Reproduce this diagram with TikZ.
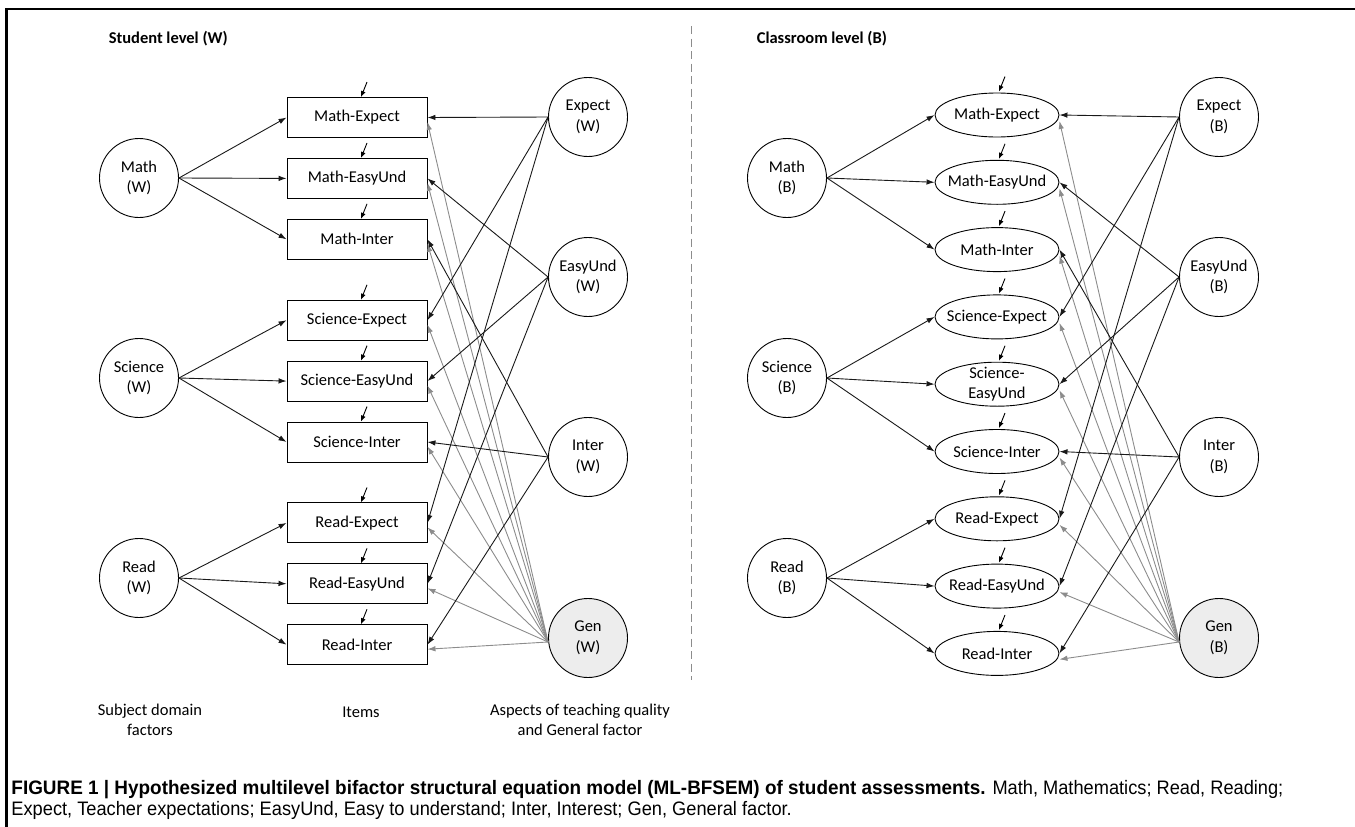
\documentclass[tikz,border=0pt]{standalone}
\usepackage{fontspec}
\setmainfont{Carlito}
\newfontfamily\capfont[FakeStretch=0.935,BoldFeatures={FakeStretch=0.97}]{Liberation Sans}
\usetikzlibrary{positioning,shapes.geometric,arrows.meta}

\tikzset{
  >={Latex[length=8pt,width=5.5pt]},
  factor/.style={circle,draw,minimum size=79pt,inner sep=0pt,align=center},
  itemw/.style={rectangle,draw,minimum width=140pt,minimum height=40pt},
  itemb/.style={ellipse,draw,minimum width=124pt,minimum height=44pt,inner xsep=-10pt,inner ysep=-3pt,align=center},
  load/.style={->,black!90},
  genload/.style={->,black!45},
  resid/.style={->,>={Latex[length=6pt,width=5pt]}}
}

\begin{document}
\begin{tikzpicture}[x=1pt,y=-1pt,line width=0.9pt,node distance=20pt,font=\fontsize{16.5}{20.5}\selectfont]
\useasboundingbox (0,0) rectangle (1355,827);
\draw[line width=2.7pt] (6.5,827) -- (6.5,9) -- (1355,9);
\draw[black!45,dash pattern=on 8pt off 4.5pt] (691,26) -- (691,680);

% student level
\node[anchor=west,font=\fontsize{16.5}{20}\selectfont\bfseries] (lvl_w) at (105,39) {Student level (W)};

\node[factor] (math_w) at (139,178) {Math\\(W)};
\node[factor] (sci_w) at (139,378) {Science\\(W)};
\node[factor] (read_w) at (139,578) {Read\\(W)};

\node[itemw] (w_1) at (357,117.5) {Math-Expect};
\node[itemw] (w_2) [below=of w_1] {Math-EasyUnd};
\node[itemw] (w_3) [below=of w_2] {Math-Inter};
\node[itemw] (w_4) [below=40pt of w_3] {Science-Expect};
\node[itemw] (w_5) [below=of w_4] {Science-EasyUnd};
\node[itemw] (w_6) [below=of w_5] {Science-Inter};
\node[itemw] (w_7) [below=40pt of w_6] {Read-Expect};
\node[itemw] (w_8) [below=of w_7] {Read-EasyUnd};
\node[itemw] (w_9) [below=of w_8] {Read-Inter};

\node[factor] (exp_w) at (588,117) {Expect\\(W)};
\node[factor] (easy_w) at (588,277) {EasyUnd\\(W)};
\node[factor] (int_w) at (588,457) {Inter\\(W)};
\node[factor,fill=black!7] (gen_w) at (588,638) {Gen\\(W)};

\foreach \i in {1,...,9}
  \path[genload] ([yshift=-4pt]gen_w.west) edge ([yshift=-4.5pt]w_\i.east);

\path[load]
  (math_w.east) edge (w_1.west) edge (w_2.west) edge (w_3.west)
  (sci_w.east) edge (w_4.west) edge (w_5.west) edge (w_6.west)
  (read_w.east) edge (w_7.west) edge (w_8.west) edge (w_9.west)
  (exp_w.west) edge (w_1.east) edge (w_4.east) edge (w_7.east)
  (easy_w.west) edge (w_2.east) edge (w_5.east) edge (w_8.east)
  (int_w.west) edge (w_3.east) edge (w_6.east) edge (w_9.east);

\foreach \i in {1,...,9}
  \draw[resid] ([xshift=10pt,yshift=15pt]w_\i.north) -- ([xshift=4pt]w_\i.north);

\node[align=center] (lab_dom) at (150,720) {Subject domain\\factors};
\node (lab_item) at (361,712) {Items};
\node[align=center] (lab_asp) at (580,720) {Aspects of teaching quality\\and General factor};

% classroom level
\node[anchor=west,font=\fontsize{16.5}{20}\selectfont\bfseries] (lvl_b) at (753,39) {Classroom level (B)};

\node[factor] (math_b) at (787,178) {Math\\(B)};
\node[factor] (sci_b) at (787,378) {Science\\(B)};
\node[factor] (read_b) at (787,578) {Read\\(B)};

\node[itemb] (b_1) at (997,115) {Math-Expect};
\node[itemb] (b_2) [below=22.4pt of b_1] {Math-EasyUnd};
\node[itemb] (b_3) [below=22.4pt of b_2] {Math-Inter};
\node[itemb] (b_4) [below=22.4pt of b_3] {Science-Expect};
\node[itemb] (b_5) [below=22.4pt of b_4] {Science-\\EasyUnd};
\node[itemb] (b_6) [below=22.4pt of b_5] {Science-Inter};
\node[itemb] (b_7) [below=22.4pt of b_6] {Read-Expect};
\node[itemb] (b_8) [below=22.4pt of b_7] {Read-EasyUnd};
\node[itemb] (b_9) [below=22.4pt of b_8] {Read-Inter};

\node[factor] (exp_b) at (1219,117) {Expect\\(B)};
\node[factor] (easy_b) at (1219,277) {EasyUnd\\(B)};
\node[factor] (int_b) at (1219,457) {Inter\\(B)};
\node[factor,fill=black!7] (gen_b) at (1219,638) {Gen\\(B)};

\foreach \i in {1,...,9}
  \path[genload] ([yshift=-4pt]gen_b.west) edge ([yshift=-6pt]b_\i.east);

\path[load]
  (math_b.east) edge (b_1.west) edge (b_2.west) edge (b_3.west)
  (sci_b.east) edge (b_4.west) edge (b_5.west) edge (b_6.west)
  (read_b.east) edge (b_7.west) edge (b_8.west) edge (b_9.west)
  (exp_b.west) edge (b_1.east) edge (b_4.east) edge (b_7.east)
  (easy_b.west) edge (b_2.east) edge (b_5.east) edge (b_8.east)
  (int_b.west) edge (b_3.east) edge (b_6.east) edge (b_9.east);

\foreach \i in {1,...,9}
  \draw[resid] ([xshift=8pt,yshift=16pt]b_\i.north) -- ([xshift=2pt,yshift=1pt]b_\i.north);

% caption
\node[anchor=base west,inner xsep=0pt,font=\capfont\fontsize{19.5}{24}\selectfont] (cap_1) at (11,794)
  {\textbf{FIGURE 1 | Hypothesized multilevel bifactor structural equation model (ML-BFSEM) of student assessments.} Math, Mathematics; Read, Reading;};
\node[anchor=base west,inner xsep=0pt,font=\capfont\fontsize{19.5}{24}\selectfont] (cap_2) at (11,815)
  {Expect, Teacher expectations; EasyUnd, Easy to understand; Inter, Interest; Gen, General factor.};
\end{tikzpicture}
\end{document}
